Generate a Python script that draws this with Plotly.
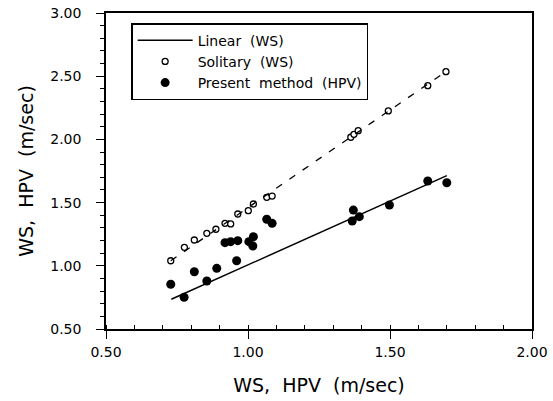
import plotly.graph_objects as go

# Linear theory (WS) line
lin_x = [0.73, 1.70]
lin_y = [0.735, 1.713]

# Solitary wave (WS) points
sol_x = [0.728, 0.776, 0.811, 0.855, 0.887, 0.919, 0.939, 0.964, 1.001, 1.019,
         1.066, 1.085, 1.362, 1.373, 1.388, 1.494, 1.633, 1.697]
sol_y = [1.040, 1.146, 1.204, 1.257, 1.289, 1.336, 1.331, 1.410, 1.436, 1.489,
         1.542, 1.552, 2.017, 2.040, 2.069, 2.225, 2.425, 2.536]

# Solitary fit (dashed) line
solfit_x = [0.728, 1.697]
solfit_y = [1.040, 2.536]

# Present method (HPV) points
hpv_x = [0.728, 0.775, 0.811, 0.855, 0.890, 0.960, 0.919, 0.939, 0.964, 1.003,
         1.019, 1.017, 1.066, 1.085, 1.371, 1.392, 1.367, 1.498, 1.633, 1.700]
hpv_y = [0.854, 0.751, 0.953, 0.880, 0.980, 1.040, 1.183, 1.191, 1.199, 1.191,
         1.230, 1.157, 1.368, 1.336, 1.441, 1.389, 1.354, 1.481, 1.671, 1.657]

FONT = "DejaVu Sans"
NB = "\u00a0"
SP = NB * 2

fig = go.Figure()
fig.add_trace(go.Scatter(x=lin_x, y=lin_y, mode="lines", name="Linear" + SP + "(WS)",
                         line=dict(color="black", width=1.5)))
fig.add_trace(go.Scatter(x=sol_x, y=sol_y, mode="markers", name="Solitary" + SP + "(WS)",
                         marker=dict(symbol="circle", size=6, color="white",
                                     line=dict(color="black", width=1.3))))
fig.add_trace(go.Scatter(x=hpv_x, y=hpv_y, mode="markers",
                         name="Present" + SP + "method" + SP + "(HPV)",
                         marker=dict(symbol="circle", size=9, color="black",
                                     line=dict(width=0))))
fig.add_trace(go.Scatter(x=solfit_x, y=solfit_y, mode="lines", showlegend=False,
                         line=dict(color="black", width=1.3, dash="7px,9px")))

axis_common = dict(
    showgrid=False, zeroline=False, showline=True, linecolor="black", linewidth=1.5,
    mirror=True, ticks="outside", ticklen=8, tickwidth=1.3, tickcolor="black",
    tickformat=".2f", tickfont=dict(family=FONT, size=14, color="black"),
    automargin=False, ticklabeloverflow="allow",
)

fig.update_xaxes(range=[0.5, 2.0], dtick=0.5, tick0=0.5, ticklabelstandoff=1,
                 minor=dict(dtick=0.1, ticks="inside", ticklen=4, tickcolor="black", tickwidth=1),
                 title=dict(text="WS," + SP + "HPV" + SP + "(m/sec)",
                            font=dict(family=FONT, size=19, color="black"), standoff=20),
                 **axis_common)
fig.update_yaxes(range=[0.5, 3.0], dtick=0.5, tick0=0.5, ticklabelstandoff=12,
                 minor=dict(dtick=0.1, ticks="outside", ticklen=4, tickcolor="black", tickwidth=1),
                 title=dict(text="WS," + SP + "HPV" + SP + "(m/sec)",
                            font=dict(family=FONT, size=19, color="black"), standoff=12),
                 **axis_common)

fig.update_layout(
    width=553, height=401,
    margin=dict(l=106, r=21, t=13, b=72),
    paper_bgcolor="white", plot_bgcolor="white",
    font=dict(family=FONT, color="black"),
    legend=dict(x=0.059, y=0.968, xanchor="left", yanchor="top",
                bordercolor="black", borderwidth=1.5, bgcolor="white",
                font=dict(family=FONT, size=14, color="black"),
                itemwidth=55, tracegroupgap=0),
)

# remove the page's default body margin so the 553x401 figure fills the window
fig.write_html("out.html",
               config={"displayModeBar": False},
               post_script="document.body.style.margin='0';document.body.style.overflow='hidden';")
